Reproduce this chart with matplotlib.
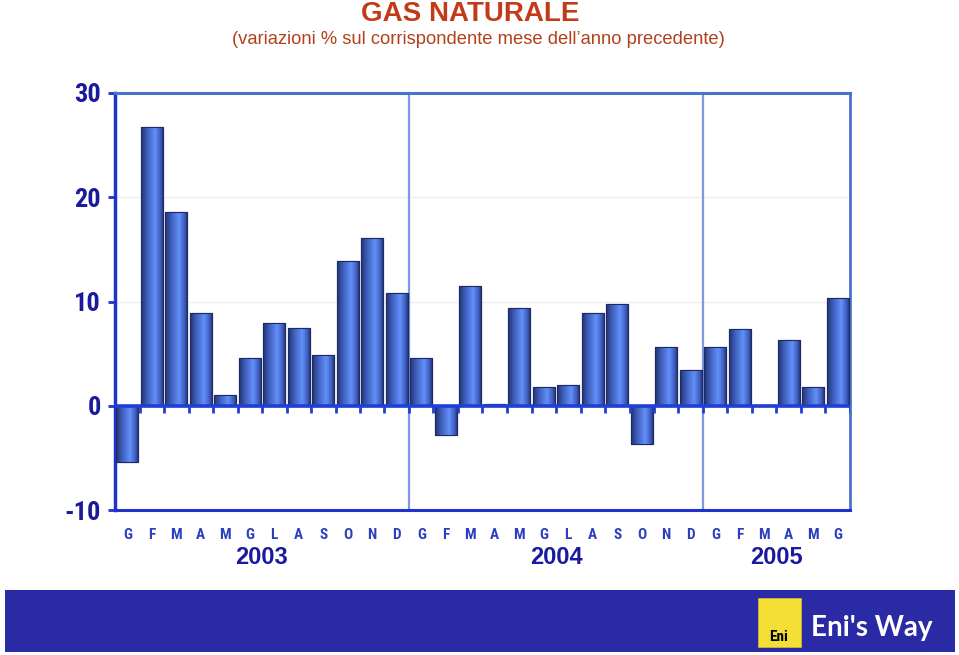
import numpy as np
import matplotlib
matplotlib.use("Agg")
import matplotlib.pyplot as plt
from matplotlib import font_manager
from matplotlib.colors import LinearSegmentedColormap
from matplotlib.patches import Rectangle
import matplotlib.transforms as mtransforms

# ---------------- data ----------------
months = ["G", "F", "M", "A", "M", "G", "L", "A", "S", "O", "N", "D",
          "G", "F", "M", "A", "M", "G", "L", "A", "S", "O", "N", "D",
          "G", "F", "M", "A", "M", "G"]
values = [-5.4, 26.7, 18.6, 8.85, 1.0, 4.6, 7.9, 7.5, 4.9, 13.9, 16.1, 10.8,
          4.6, -2.8, 11.5, 0.2, 9.4, 1.8, 2.0, 8.9, 9.8, -3.7, 5.6, 3.4,
          5.6, 7.4, 0.05, 6.3, 1.8, 10.3]
years = ["2003", "2004", "2005"]
year_sizes = [12, 12, 6]
yticks = [-10, 0, 10, 20, 30]
title = "GAS NATURALE"
subtitle = "(variazioni % sul corrispondente mese dell\u2019anno precedente)"

# ---------------- fonts ----------------
names = {f.name for f in font_manager.fontManager.ttflist}
narrow = "Liberation Sans"
for cand in ["Liberation Sans Narrow", "Arial Narrow", "Roboto Condensed",
             "PT Sans Narrow", "Open Sans Condensed", "Asap Condensed",
             "Barlow Semi Condensed"]:
    if cand in names:
        narrow = cand
        break
regular = "Liberation Sans"

fig = plt.figure(figsize=(9.59, 6.55), dpi=100)
ax = fig.add_axes([115/959, 1-510/655, 735/959, 417/655])

x = np.arange(len(values))
bars = ax.bar(x, values, width=0.9, color="#4a6fd8", edgecolor="#1c2a66",
              linewidth=0.8, zorder=3)

# cylinder-like gradient
cmap = LinearSegmentedColormap.from_list(
    "cyl", [(0.0, "#22346f"), (0.25, "#3d5cb8"), (0.62, "#6290fa"),
            (0.85, "#3f5fc0"), (1.0, "#1f2f6a")])
grad = np.linspace(0, 1, 64).reshape(1, -1)
for b in bars:
    bx, by, bw, bh = b.get_x(), b.get_y(), b.get_width(), b.get_height()
    y0, y1 = (by, by + bh) if bh >= 0 else (by + bh, by)
    im = ax.imshow(grad, cmap=cmap, aspect="auto",
                   extent=(bx, bx + bw, y0, y1), zorder=3.5,
                   interpolation="bilinear")
    im.set_clip_path(b)
    ax.add_patch(Rectangle((bx, by), bw, bh, fill=False, edgecolor="#1c2a66",
                           linewidth=0.8, zorder=4))

ax.set_xlim(-0.5, len(values) - 0.5)
ax.set_ylim(-10, 30)

for yv in [10, 20]:
    ax.axhline(yv, color="#eeeeee", linewidth=1, zorder=1)

bounds = np.cumsum(year_sizes)[:-1] - 0.5
for bx in bounds:
    ax.axvline(bx, color="#7b98e6", linewidth=1.6, zorder=2)

ax.axhline(0, color="#1f3fd6", linewidth=2.6, zorder=5)
edges = np.arange(len(values) + 1) - 0.5
ax.vlines(edges[1:], -0.7, 0, color="#1f3fd6", linewidth=2, zorder=5)

ax.spines["left"].set_color("#1f33cc")
ax.spines["left"].set_linewidth(2.5)
ax.spines["bottom"].set_color("#1f33cc")
ax.spines["bottom"].set_linewidth(2.2)
ax.spines["top"].set_color("#4a72c8")
ax.spines["top"].set_linewidth(2.2)
ax.spines["right"].set_color("#4a72c8")
ax.spines["right"].set_linewidth(2.0)

ax.set_yticks(yticks)
ax.set_yticklabels([str(v) for v in yticks])
ax.tick_params(axis="y", length=5, width=2, color="#1f33cc", pad=5,
               labelsize=19, labelcolor="#1a1a9c")
for lab in ax.get_yticklabels():
    lab.set_fontfamily(narrow)
    lab.set_fontweight("bold")

ax.set_xticks(x)
ax.set_xticklabels(months)
ax.tick_params(axis="x", length=0, pad=13, labelsize=11, labelcolor="#2b3fbf")
for lab in ax.get_xticklabels():
    lab.set_fontfamily(narrow)
    lab.set_fontweight("bold")

trans = mtransforms.blended_transform_factory(ax.transData, fig.transFigure)
starts = np.concatenate([[0], np.cumsum(year_sizes)[:-1]])
for yr, s, n in zip(years, starts, year_sizes):
    ax.text(s + (n - 1) / 2, 1 - 557/655, yr, transform=trans, ha="center",
            va="center", fontsize=17, fontweight="bold", color="#1a1aa0",
            family=regular)

fig.text(470/959, 1 - 14/655, title, ha="center", va="center", fontsize=20,
         fontweight="bold", color="#c23a17", family=regular)
fig.text(478/959, 1 - 40/655, subtitle, ha="center", va="center",
         fontsize=13.2, color="#b2401c", family=regular)

fig.patches.append(Rectangle((5/959, 3/655), 950/959, 62/655,
                             transform=fig.transFigure, facecolor="#2a2aa5",
                             edgecolor="none", zorder=0))
fig.patches.append(Rectangle((758/959, 1 - 647/655), 43/959, 49/655,
                             transform=fig.transFigure, facecolor="#f3df35",
                             edgecolor="#d8c020", linewidth=0.5, zorder=1))
fig.text(779/959, 1 - 637/655, "Eni", ha="center", va="center", fontsize=11,
         fontweight="bold", color="black", family=narrow)
fig.text(872/959, 1 - 628/655, "Eni's Way", ha="center", va="center",
         fontsize=20, fontweight="bold", color="white", family="Lato")

fig.savefig("out.png", dpi=100)
